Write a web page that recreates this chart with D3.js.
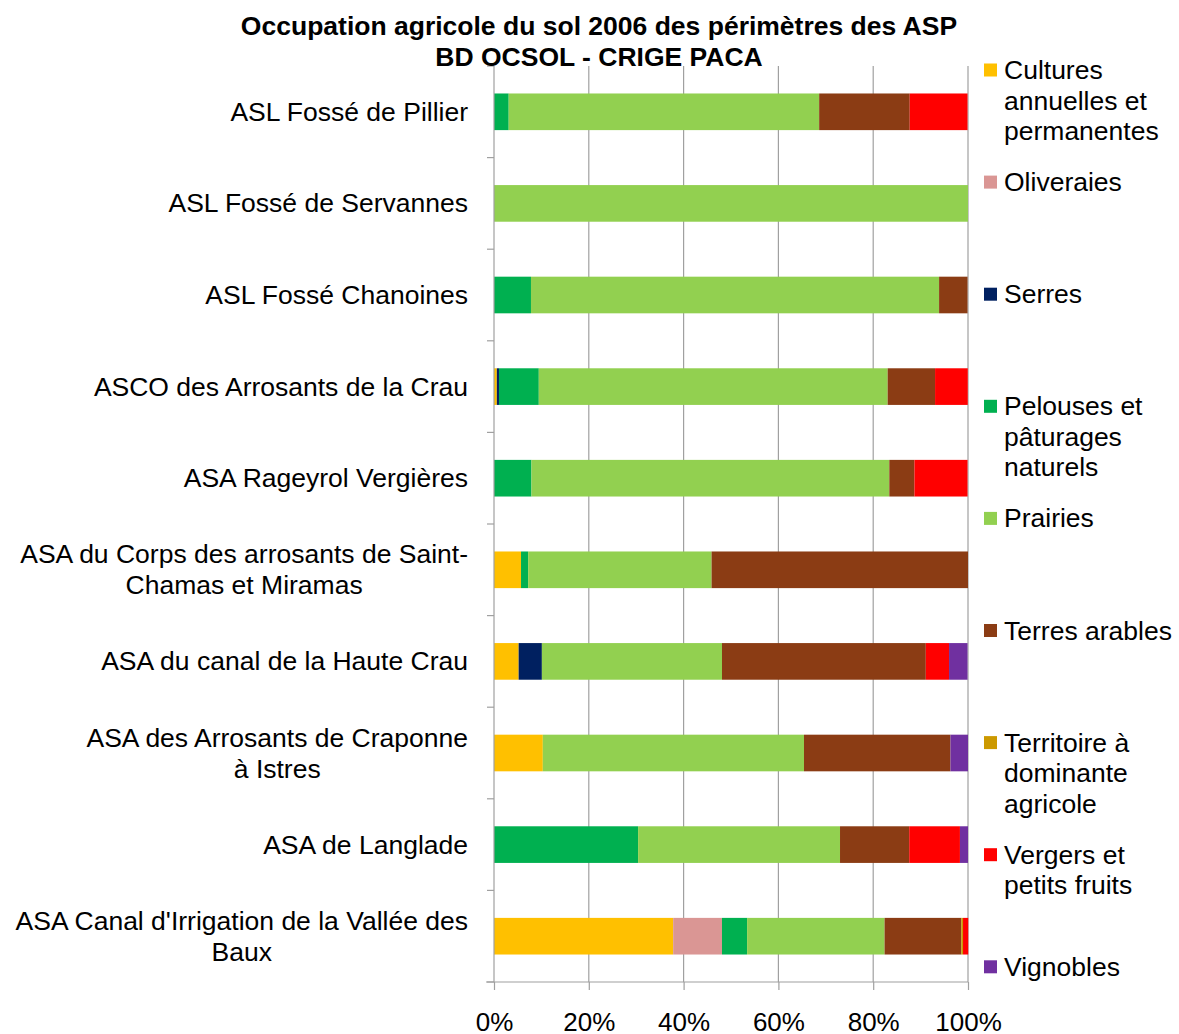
<!DOCTYPE html>
<html>
<head>
<meta charset="utf-8">
<script src="https://cdn.jsdelivr.net/npm/d3@7"></script>
<style>
  body { margin: 0; background: #fff; }
  text { font-family: "Liberation Sans", Arial, sans-serif; fill: #000; }
</style>
</head>
<body>
<div class="chart"></div>
<script>
// categories, top to bottom (each entry = label lines)
const categories = [
  ["ASL Fossé de Pillier"],
  ["ASL Fossé de Servannes"],
  ["ASL Fossé Chanoines"],
  ["ASCO des Arrosants de la Crau"],
  ["ASA Rageyrol Vergières"],
  ["ASA du Corps des arrosants de Saint-", "Chamas et Miramas"],
  ["ASA du canal de la Haute Crau"],
  ["ASA des Arrosants de Craponne", "à Istres"],
  ["ASA de Langlade"],
  ["ASA Canal d'Irrigation de la Vallée des", "Baux"]
]

const seriesNames = [
  ["Cultures", "annuelles et", "permanentes"],
  ["Oliveraies"],
  ["Serres"],
  ["Pelouses et", "pâturages", "naturels"],
  ["Prairies"],
  ["Terres arables"],
  ["Territoire à", "dominante", "agricole"],
  ["Vergers et", "petits fruits"],
  ["Vignobles"]
]
const seriesColors = ["#FFC000", "#DA9694", "#002060", "#00B050", "#92D050", "#8B3C14", "#CC9900", "#FF0000", "#7030A0"]

// % per series, in category order
const cultures   = [0, 0, 0, 0.6, 0, 5.7, 5.2, 10.3, 0, 37.8]
const oliveraies = [0, 0, 0, 0, 0, 0, 0, 0, 0, 10.3]
const serres     = [0, 0, 0, 0.45, 0, 0, 4.9, 0, 0, 0]
const pelouses   = [3.1, 0, 7.8, 8.4, 7.9, 1.5, 0, 0, 30.4, 5.3]
const prairies   = [65.5, 100, 86.1, 73.6, 75.5, 38.7, 38.0, 55.1, 42.6, 29.0]
const terres     = [19.1, 0, 6.0, 10.0, 5.3, 54.1, 43.0, 30.9, 14.6, 16.2]
const territoire = [0, 0, 0, 0, 0, 0, 0, 0, 0, 0.35]
const vergers    = [12.2, 0, 0, 6.9, 11.2, 0, 4.9, 0, 10.7, 1.1]
const vignobles  = [0, 0, 0, 0, 0, 0, 3.9, 3.7, 1.7, 0]

const xTicks = [0, 20, 40, 60, 80, 100]

const values = [cultures, oliveraies, serres, pelouses, prairies, terres, territoire, vergers, vignobles]

var width = 1179, height = 1034
var margin = {top: 66, left: 494, right: 211, bottom: 52}
var innerW = width - margin.left - margin.right
var innerH = height - margin.top - margin.bottom
var fontSize = "26.5px"

var svg = d3.select(".chart").append("svg")
    .attr("width", width)
    .attr("height", height)

// table for the stack
let rows = categories.map((c, i) => {
    let row = {idx: i}
    values.forEach((s, j) => { row["s" + j] = s[i] })
    return row
})
let keys = values.map((s, j) => "s" + j)
let stacked = d3.stack().keys(keys)(rows)

var x = d3.scaleLinear().domain([0, 100]).range([0, innerW])
var y = d3.scaleBand()
    .domain(categories.map((c, i) => i))
    .range([0, innerH])
    .paddingInner(0.6)
    .paddingOuter(0.3)
var yEdge = d3.scaleBand().domain(categories.map((c, i) => i)).range([0, innerH])

var g = svg.append("g")
    .attr("transform", "translate(" + margin.left + "," + margin.top + ")")

// vertical gridlines
g.append("g").selectAll("line")
    .data(xTicks.slice(1))
    .enter().append("line")
    .attr("x1", d => x(d)).attr("x2", d => x(d))
    .attr("y1", 0).attr("y2", innerH)
    .attr("stroke", "#A0A0A0")
    .attr("stroke-width", 1.2)

// bars
g.append("g").selectAll("g")
    .data(stacked)
    .enter().append("g")
    .attr("fill", (d, i) => seriesColors[i])
    .selectAll("rect")
    .data(d => d)
    .enter().append("rect")
    .attr("x", d => x(d[0]))
    .attr("width", d => Math.max(0, x(d[1]) - x(d[0])))
    .attr("y", d => y(d.data.idx))
    .attr("height", y.bandwidth())

// x axis
var xAxis = g.append("g")
    .attr("transform", "translate(0," + innerH + ")")
    .call(d3.axisBottom(x).tickValues(xTicks).tickFormat(d => d + "%").tickSize(8).tickSizeOuter(0))
xAxis.select(".domain").attr("stroke", "#A0A0A0").attr("stroke-width", 1.2)
    .attr("d", "M-8,0H" + innerW)
xAxis.selectAll(".tick line").attr("stroke", "#A0A0A0").attr("stroke-width", 1.2)
xAxis.selectAll(".tick text")
    .attr("y", 49)
    .attr("dy", 0)
    .style("font-size", "26px")
    .style("font-family", "'Liberation Sans', Arial, sans-serif")
    .attr("fill", "#000")

// y axis line + ticks at band edges
g.append("line")
    .attr("x1", 0).attr("x2", 0).attr("y1", 0).attr("y2", innerH)
    .attr("stroke", "#A0A0A0").attr("stroke-width", 1.2)
let edges = categories.map((c, i) => yEdge(i)).concat([innerH])
g.append("g").selectAll("line")
    .data(edges)
    .enter().append("line")
    .attr("x1", -7).attr("x2", 0)
    .attr("y1", d => d).attr("y2", d => d)
    .attr("stroke", "#A0A0A0").attr("stroke-width", 1.2)

// category labels (multi-line ones are centred on the first line)
let lineH = 31
categories.forEach((lines, i) => {
    let cy = y(i) + y.bandwidth() / 2
    let t = g.append("text")
        .style("font-size", fontSize)
        .attr("y", cy - (lines.length - 1) * lineH / 2 + 9)
    if (lines.length === 1) {
        t.attr("x", -26).attr("text-anchor", "end").text(lines[0])
    } else {
        t.attr("text-anchor", "middle")
        let tmp = t.append("tspan").text(lines[0])
        let w = tmp.node().getComputedTextLength()
        let cx = -26 - w / 2
        tmp.attr("x", cx)
        lines.slice(1).forEach(l => {
            t.append("tspan").attr("x", cx).attr("dy", lineH).text(l)
        })
    }
})

// title
var title = svg.append("text")
    .attr("text-anchor", "middle")
    .style("font-size", "26.5px")
    .style("font-weight", "bold")
title.append("tspan").attr("x", 599).attr("y", 35).text("Occupation agricole du sol 2006 des périmètres des ASP")
title.append("tspan").attr("x", 599).attr("dy", 31).text("BD OCSOL - CRIGE PACA")

// legend
var legend = svg.append("g").attr("transform", "translate(984,0)")
seriesNames.forEach((lines, i) => {
    let top = 70 + i * 112.1
    legend.append("rect")
        .attr("x", 0).attr("y", top - 6.5)
        .attr("width", 13).attr("height", 13)
        .attr("fill", seriesColors[i])
    let t = legend.append("text").style("font-size", fontSize)
    lines.forEach((l, k) => {
        t.append("tspan").attr("x", 20).attr("y", top + 9 + k * 30.5).text(l)
    })
})
</script>
</body>
</html>
